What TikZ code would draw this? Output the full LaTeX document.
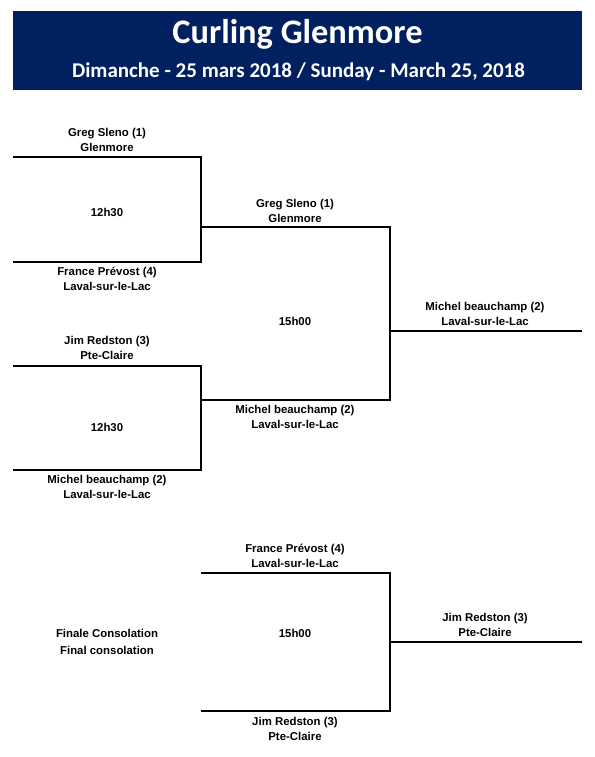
\documentclass[tikz,border=0pt]{standalone}
\usepackage{fontspec}
\setmainfont{Liberation Sans}
\newfontfamily\titlefont{Carlito}
\usepackage{tikz}
\usetikzlibrary{positioning}
\definecolor{headblue}{RGB}{0,32,96}
\tikzset{
  team/.style={align=center, font=\bfseries\fontsize{11.4}{15}\selectfont, inner sep=0pt},
  slot/.style={font=\bfseries\fontsize{11.4}{15}\selectfont, inner sep=0pt},
  wire/.style={line width=2pt}
}
\begin{document}
\begin{tikzpicture}[x=1pt, y=-1pt]
		\useasboundingbox (0,0) rectangle (594,757);
		% Header:
		\fill[headblue] (13,11) rectangle (582,90);
		\node[text=white, font=\titlefont\bfseries\fontsize{34.4}{38}\selectfont, inner sep=0pt] (title) at (297.5,34) {Curling Glenmore};
		\node[text=white, font=\titlefont\bfseries\fontsize{21}{24}\selectfont, inner sep=0pt] (subtitle) at (298.5,72) {Dimanche - 25 mars 2018 / Sunday - March 25, 2018};
		% Corners of the bracket lines:
		\coordinate (a1l) at (13,157);   \coordinate (a1r) at (201,157);
		\coordinate (a2l) at (13,262);   \coordinate (a2r) at (201,262);
		\coordinate (b1l) at (13,366);   \coordinate (b1r) at (201,366);
		\coordinate (b2l) at (13,470);   \coordinate (b2r) at (201,470);
		\coordinate (s1l) at (201,227);  \coordinate (s1r) at (390,227);
		\coordinate (s2l) at (201,400);  \coordinate (s2r) at (390,400);
		\coordinate (fl) at (390,331);   \coordinate (fr) at (582,331);
		\coordinate (c1l) at (201,573);  \coordinate (c1r) at (390,573);
		\coordinate (c2l) at (201,711);  \coordinate (c2r) at (390,711);
		\coordinate (cfl) at (390,642);  \coordinate (cfr) at (582,642);
		% Wires:
		\draw[wire] (a1l) -- (a1r) -- (a2r) -- (a2l);
		\draw[wire] (b1l) -- (b1r) -- (b2r) -- (b2l);
		\draw[wire] (s1l) -- (s1r) -- (s2r) -- (s2l);
		\draw[wire] (fl) -- (fr);
		\draw[wire] (c1l) -- (c1r) -- (c2r) -- (c2l);
		\draw[wire] (cfl) -- (cfr);
		% Teams and times:
		\node[team] (ta1) at (107,139.5) {Greg Sleno (1)\\Glenmore};
		\node[team] (ta2) at (107,278.5) {France Prévost (4)\\Laval-sur-le-Lac};
		\node[slot] (ha) at (107,212) {12h30};
		\node[team] (tb1) at (107,347.5) {Jim Redston (3)\\Pte-Claire};
		\node[team] (tb2) at (107,487) {Michel beauchamp (2)\\Laval-sur-le-Lac};
		\node[slot] (hb) at (107,427) {12h30};
		\node[team] (ts1) at (295,210.5) {Greg Sleno (1)\\Glenmore};
		\node[team] (ts2) at (295,417) {Michel beauchamp (2)\\Laval-sur-le-Lac};
		\node[slot] (hs) at (295,321) {15h00};
		\node[team] (tf) at (485,313.5) {Michel beauchamp (2)\\Laval-sur-le-Lac};
		\node[team] (tc1) at (295,555.5) {France Prévost (4)\\Laval-sur-le-Lac};
		\node[team] (tc2) at (295,728.5) {Jim Redston (3)\\Pte-Claire};
		\node[slot] (hc) at (295,633) {15h00};
		\node[team, font=\bfseries\fontsize{11.4}{17}\selectfont] (cons) at (107,641.5) {Finale Consolation\\Final consolation};
		\node[team] (tcf) at (485,624.5) {Jim Redston (3)\\Pte-Claire};
	\end{tikzpicture}
\end{document}
